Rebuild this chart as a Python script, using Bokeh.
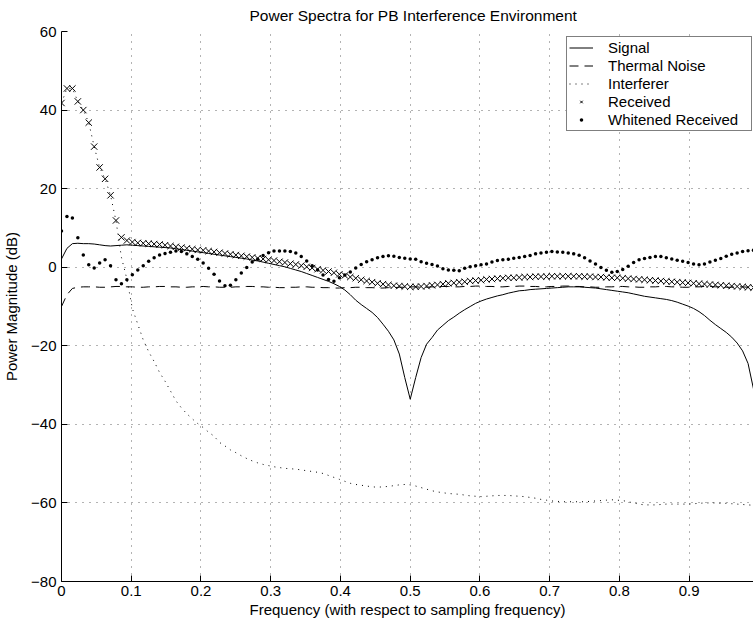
from bokeh.plotting import figure
from bokeh.models import Range1d, FixedTicker, Legend, LegendItem
from bokeh.embed import file_html
from bokeh.resources import INLINE

# frequency bins (k/128)
freq = [k / 128 for k in range(128)]

signal = [
    2.1, 4.8, 6.0, 6.1, 6.0, 6.0, 5.9, 5.7, 5.5, 5.4,
    5.5, 5.6, 5.7, 5.6, 5.5, 5.4, 5.3, 5.2, 5.1, 5.0,
    4.9, 4.7, 4.5, 4.3, 4.1, 3.9, 3.7, 3.5, 3.3, 3.1,
    2.9, 2.7, 2.5, 2.3, 2.1, 1.8, 1.6, 1.3, 1.0, 0.7,
    0.4, 0.1, -0.3, -0.7, -1.1, -1.6, -2.1, -2.6, -3.1, -3.6,
    -4.2, -4.9, -5.8, -7.0, -8.4, -9.5, -10.5, -11.5, -12.8, -14.5,
    -16.3, -18.5, -22.1, -28.1, -33.6, -28.1, -23.0, -19.6, -17.9, -16.0,
    -14.8, -13.6, -12.7, -11.7, -10.8, -10.0, -9.2, -8.6, -8.1, -7.7,
    -7.3, -7.0, -6.6, -6.3, -6.0, -5.9, -5.7, -5.6, -5.5, -5.4,
    -5.3, -5.2, -5.1, -5.0, -5.0, -5.0, -5.1, -5.2, -5.3, -5.5,
    -5.7, -5.9, -6.1, -6.3, -6.5, -6.8, -7.1, -7.4, -7.6, -7.8,
    -8.0, -8.2, -8.5, -8.9, -9.4, -9.9, -10.5, -11.3, -12.3, -13.5,
    -14.6, -15.6, -16.6, -17.8, -19.3, -21.3, -24.5, -31.0,
]

noise = [
    -10.0, -7.0, -5.4, -5.1, -5.0, -5.0, -5.0, -5.1, -5.1, -5.0,
    -4.9, -4.9, -5.0, -5.0, -5.1, -5.1, -5.0, -5.0, -4.9, -4.9,
    -5.0, -5.0, -5.1, -5.1, -5.0, -5.0, -4.9, -5.0, -5.0, -5.1,
    -5.1, -5.1, -5.0, -5.0, -4.9, -4.9, -5.0, -5.0, -5.1, -5.1,
    -5.2, -5.2, -5.1, -5.1, -5.0, -5.0, -5.1, -5.1, -5.2, -5.2,
    -5.3, -5.3, -5.2, -5.2, -5.1, -5.1, -5.2, -5.2, -5.3, -5.3,
    -5.2, -5.2, -5.1, -5.1, -5.0, -5.0, -5.1, -5.1, -5.0, -5.0,
    -4.9, -4.9, -5.0, -5.0, -4.9, -4.9, -4.8, -4.8, -4.9, -4.9,
    -5.0, -5.0, -4.9, -4.9, -4.8, -4.8, -4.9, -4.9, -5.0, -5.0,
    -4.9, -4.9, -4.8, -4.8, -4.9, -4.9, -5.0, -5.0, -5.1, -5.1,
    -5.0, -5.0, -4.9, -4.9, -5.0, -5.0, -5.1, -5.1, -5.0, -5.0,
    -4.9, -4.9, -5.0, -5.0, -5.1, -5.1, -5.0, -5.0, -4.9, -4.9,
    -5.0, -5.0, -5.1, -5.1, -5.0, -5.0, -5.1, -5.1,
]

interferer = [
    41.8, 45.5, 45.5, 42.2, 40.0, 36.8, 30.7, 25.4, 22.5, 18.3,
    11.8, 2.5, -3.0, -10.5, -14.5, -18.5, -21.5, -24.0, -26.8, -29.0,
    -31.5, -34.0, -35.8, -37.3, -38.6, -39.8, -40.8, -42.0, -43.0, -44.6,
    -45.5, -46.5, -47.2, -48.0, -48.7, -49.3, -49.8, -50.2, -50.5, -50.8,
    -51.0, -51.2, -51.3, -51.4, -51.6, -51.8, -52.0, -52.2, -52.5, -53.0,
    -53.5, -54.0, -54.5, -55.0, -55.3, -55.5, -55.7, -55.9, -56.0, -55.9,
    -55.8, -55.6, -55.4, -55.3, -55.4, -55.7, -56.1, -56.5, -56.9, -57.2,
    -57.4, -57.6, -57.7, -57.8, -58.0, -58.2, -58.3, -58.4, -58.3, -58.2,
    -58.1, -58.1, -58.1, -58.2, -58.3, -58.4, -58.6, -58.8, -59.1, -59.3,
    -59.5, -59.6, -59.7, -59.7, -59.7, -59.7, -59.7, -59.6, -59.5, -59.4,
    -59.3, -59.2, -59.3, -59.4, -59.7, -60.0, -60.3, -60.5, -60.5, -60.5,
    -60.4, -60.3, -60.3, -60.3, -60.3, -60.3, -60.2, -60.1, -60.0, -60.0,
    -60.0, -60.1, -60.1, -60.2, -60.3, -60.4, -60.5, -60.6,
]

received = [
    41.8, 45.5, 45.5, 42.2, 40.0, 36.8, 30.7, 25.4, 22.5, 18.3,
    11.9, 7.6, 6.8, 6.4, 6.2, 6.1, 6.0, 5.9, 5.8, 5.6,
    5.4, 5.2, 5.0, 4.8, 4.6, 4.4, 4.3, 4.1, 3.9, 3.7,
    3.5, 3.3, 3.1, 2.9, 2.7, 2.5, 2.3, 2.1, 1.9, 1.7,
    1.4, 1.2, 0.9, 0.7, 0.4, 0.1, -0.2, -0.5, -0.8, -1.1,
    -1.4, -1.8, -2.1, -2.5, -2.8, -3.2, -3.5, -3.8, -4.1, -4.3,
    -4.5, -4.7, -4.8, -4.9, -5.0, -5.0, -4.9, -4.8, -4.6, -4.5,
    -4.3, -4.1, -4.0, -3.8, -3.7, -3.5, -3.4, -3.3, -3.1, -3.0,
    -2.9, -2.8, -2.7, -2.7, -2.6, -2.5, -2.5, -2.4, -2.4, -2.4,
    -2.3, -2.3, -2.3, -2.3, -2.3, -2.3, -2.4, -2.4, -2.5, -2.5,
    -2.6, -2.7, -2.7, -2.8, -2.9, -3.0, -3.1, -3.2, -3.3, -3.4,
    -3.5, -3.6, -3.7, -3.8, -3.9, -4.0, -4.1, -4.2, -4.3, -4.4,
    -4.5, -4.6, -4.7, -4.8, -4.9, -5.0, -5.1, -5.2,
]

whitened = [
    9.2, 12.9, 12.5, 7.5, 3.1, 0.6, -0.2, 1.1, 1.9, 0.4,
    -3.2, -4.2, -3.2, -1.9, -0.7, 0.4, 1.5, 2.4, 3.1, 3.5,
    3.8, 4.1, 4.0, 3.4, 2.7, 2.0, 1.1, -0.25, -1.8, -3.5,
    -4.7, -4.6, -3.2, -1.5, -0.1, 1.3, 2.0, 3.0, 3.7, 4.1,
    4.1, 4.1, 4.0, 3.6, 2.7, 1.6, 0.4, -0.7, -2.0, -3.1,
    -3.6, -2.7, -2.0, -1.2, -0.2, 0.7, 1.4, 1.9, 2.4, 2.7,
    2.9, 2.8, 2.5, 2.3, 2.1, 2.0, 1.4, 1.0, 0.7, 0.3,
    -0.4, -0.7, -0.8, -0.9, -0.25, 0.1, 0.35, 0.6, 0.85, 1.3,
    1.7, 1.9, 2.0, 2.3, 2.5, 2.7, 3.0, 3.4, 3.65, 3.8,
    4.0, 3.9, 3.8, 3.6, 3.4, 3.05, 2.4, 1.6, 0.8, -0.1,
    -0.8, -1.3, -1.1, -0.6, 0.25, 1.2, 1.9, 2.2, 2.5, 2.7,
    2.7, 2.4, 2.1, 1.8, 1.5, 1.2, 0.85, 0.6, 0.85, 1.3,
    1.8, 2.2, 2.8, 3.3, 3.65, 4.0, 4.2, 4.3,
]

title_text = "Power Spectra for PB Interference Environment"
x_ticks = [0, 0.1, 0.2, 0.3, 0.4, 0.5, 0.6, 0.7, 0.8, 0.9]
x_tick_labels = ["0", "0.1", "0.2", "0.3", "0.4", "0.5", "0.6", "0.7", "0.8", "0.9"]
y_ticks = [-80, -60, -40, -20, 0, 20, 40, 60]
y_tick_labels = ["\u221280", "\u221260", "\u221240", "\u221220", "0", "20", "40", "60"]

FONT = "Liberation Sans"
FS = "15px"

p = figure(
    width=753, height=625,
    x_range=Range1d(0, freq[-1]), y_range=Range1d(-80, 60),
    output_backend="svg", toolbar_location=None,
    min_border_left=60, min_border_right=0, min_border_top=31, min_border_bottom=44,
    title=title_text,
)
p.outline_line_color = None
p.background_fill_color = "white"
p.border_fill_color = "white"

p.title.text_font = FONT
p.title.text_font_size = "15.5px"
p.title.text_font_style = "normal"
p.title.text_color = "black"
p.title.align = "left"
p.title.offset = 188
p.title.vertical_align = "top"
p.title.standoff = 11

for ax in (p.xaxis[0], p.yaxis[0]):
    ax.axis_line_color = "black"
    ax.axis_line_width = 1
    ax.major_tick_in = 6
    ax.major_tick_out = 0
    ax.major_tick_line_color = "black"
    ax.minor_tick_line_color = None
    ax.major_label_text_font = FONT
    ax.major_label_text_font_size = FS
    ax.major_label_text_color = "black"
    ax.axis_label_text_font = FONT
    ax.axis_label_text_font_size = FS
    ax.axis_label_text_font_style = "normal"
    ax.axis_label_text_color = "black"

p.xaxis.ticker = FixedTicker(ticks=x_ticks)
p.xaxis.major_label_overrides = dict(zip(x_ticks, x_tick_labels))
p.yaxis.ticker = FixedTicker(ticks=y_ticks)
p.yaxis.major_label_overrides = dict(zip(y_ticks, y_tick_labels))
p.xaxis.axis_label = "Frequency (with respect to sampling frequency)"
p.yaxis.axis_label = "Power Magnitude (dB)"
p.xaxis.major_label_standoff = 4
p.xaxis.axis_label_standoff = 2
p.yaxis.major_label_standoff = 5
p.yaxis.axis_label_standoff = 8

for g in (p.xgrid[0], p.ygrid[0]):
    g.grid_line_color = "black"
    g.grid_line_alpha = 0.6
    g.grid_line_width = 1
    g.grid_line_dash = "1 6"

r_sig = p.line(freq, signal, line_color="black", line_width=1)
r_noise = p.line(freq, noise, line_color="black", line_width=1, line_dash="9 6")
r_int = p.line(freq, interferer, line_color="black", line_width=1, line_dash="1 5")
r_rec = p.scatter(freq, received, marker="x", size=9, line_color="black", line_width=1)
r_wh = p.scatter(freq, whitened, marker="circle", size=3.5, fill_color="black", line_color=None)

legend = Legend(
    items=[
        LegendItem(label="Signal", renderers=[r_sig]),
        LegendItem(label="Thermal Noise", renderers=[r_noise]),
        LegendItem(label="Interferer", renderers=[r_int]),
        LegendItem(label="Received", renderers=[r_rec]),
        LegendItem(label="Whitened Received", renderers=[r_wh]),
    ],
    location=(505, 450),
)
legend.border_line_color = "black"
legend.border_line_width = 1
legend.background_fill_color = "white"
legend.background_fill_alpha = 1
legend.label_text_font = FONT
legend.label_text_font_size = FS
legend.label_text_color = "black"
legend.glyph_width = 24
legend.glyph_height = 9
legend.label_height = 17
legend.label_width = 141
legend.label_standoff = 15
legend.spacing = 1
legend.padding = 2
legend.margin = 0
p.add_layout(legend)

open("out.html", "w").write(file_html(p, INLINE))
